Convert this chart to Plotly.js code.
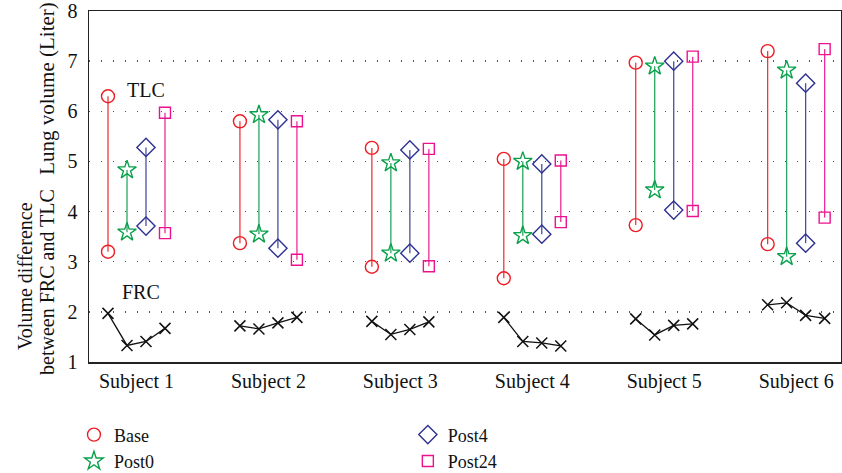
<!DOCTYPE html>
<html>
<head>
<meta charset="utf-8">
<script src="https://cdn.plot.ly/plotly-3.0.1.min.js"></script>
<style>html,body{margin:0;padding:0;background:#fff}#chart{width:842px;height:473px}</style>
</head>
<body>
<div id="chart"></div>
<script>
var subjects = ["Subject 1", "Subject 2", "Subject 3", "Subject 4", "Subject 5", "Subject 6"];
var seriesNames = ["Base", "Post0", "Post4", "Post24"];

// TLC values (upper end of each stem)
var tlcBase   = [6.30, 5.80, 5.27, 5.05, 6.97, 7.20];
var tlcPost0  = [4.83, 5.93, 4.97, 5.00, 6.90, 6.82];
var tlcPost4  = [5.28, 5.83, 5.23, 4.95, 7.00, 6.56];
var tlcPost24 = [5.97, 5.80, 5.25, 5.02, 7.09, 7.24];

// FRC values (lower end of each stem)
var frcBase   = [3.20, 3.37, 2.90, 2.67, 3.73, 3.35];
var frcPost0  = [3.59, 3.55, 3.17, 3.52, 4.43, 3.10];
var frcPost4  = [3.71, 3.27, 3.17, 3.55, 4.03, 3.37];
var frcPost24 = [3.57, 3.04, 2.91, 3.79, 4.01, 3.88];

// Volume difference between FRC and TLC (black line)
var diffBase   = [1.97, 1.72, 1.81, 1.89, 1.86, 2.14];
var diffPost0  = [1.33, 1.66, 1.55, 1.41, 1.54, 2.18];
var diffPost4  = [1.41, 1.78, 1.65, 1.38, 1.73, 1.93];
var diffPost24 = [1.67, 1.89, 1.80, 1.32, 1.76, 1.87];

var tlc = [tlcBase, tlcPost0, tlcPost4, tlcPost24];
var frc = [frcBase, frcPost0, frcPost4, frcPost24];
var diff = [diffBase, diffPost0, diffPost4, diffPost24];

// styles
var colors = ["#ee1d25", "#0aa14b", "#2e3192", "#ec118f"];
var lineColors = ["#f0363d", "#27a860", "#4b4f9e", "#ec2d98"];
var symbols = ["circle-open", "star-open", "diamond-open", "square-open"];
var sizes = [13, 14, 14, 11];
var offsets = [-1.5, -0.5, 0.5, 1.5];
var step = 0.144;
var serif = "Liberation Serif, Times New Roman, serif";

var traces = [];
var subjPos = subjects.map(function (s, i) { return i + 1; });

for (var k = 0; k < 4; k++) {
  var sx = [], sy = [], mx = [], my = [];
  for (var i = 0; i < subjects.length; i++) {
    var xv = subjPos[i] + offsets[k] * step;
    sx.push(xv, xv, null);
    sy.push(frc[k][i], tlc[k][i], null);
    mx.push(xv, xv);
    my.push(tlc[k][i], frc[k][i]);
  }
  traces.push({
    x: sx, y: sy, mode: "lines", type: "scatter",
    line: {color: lineColors[k], width: 1.3},
    showlegend: false, hoverinfo: "skip"
  });
  traces.push({
    x: mx, y: my, mode: "markers", type: "scatter", name: seriesNames[k],
    marker: {symbol: symbols[k], size: sizes[k], color: colors[k], line: {width: 1.4, color: colors[k]}},
    legend: k < 2 ? "legend" : "legend2",
    showlegend: true
  });
}

// black difference line
var dx = [], dy = [];
for (var i = 0; i < subjects.length; i++) {
  for (var k = 0; k < 4; k++) {
    dx.push(subjPos[i] + offsets[k] * step);
    dy.push(diff[k][i]);
  }
  dx.push(null); dy.push(null);
}
traces.push({
  x: dx, y: dy, mode: "lines+markers", type: "scatter",
  line: {color: "#111", width: 1.3},
  marker: {symbol: "x-thin-open", size: 11, color: "#111", line: {width: 1.5, color: "#111"}},
  showlegend: false, connectgaps: false
});

var annFont = {family: serif, size: 20, color: "#111"};
var layout = {
  width: 842, height: 473,
  margin: {l: 89, r: 1, t: 11, b: 111, autoexpand: false},
  paper_bgcolor: "#fff", plot_bgcolor: "#fff",
  font: {family: serif, size: 20, color: "#111"},
  xaxis: {
    range: [0.64, 6.34],
    tickvals: subjPos, ticktext: subjects,
    showgrid: false, zeroline: false,
    showline: true, linecolor: "#222", linewidth: 1.5, mirror: true,
    ticks: "", automargin: false,
    tickfont: {family: serif, size: 20, color: "#111"}
  },
  yaxis: {
    range: [1, 8],
    tickvals: [1, 2, 3, 4, 5, 6, 7, 8],
    showgrid: true, gridcolor: "#555", gridwidth: 1.3, griddash: "1.3px,10.7px",
    zeroline: false,
    showline: true, linecolor: "#222", linewidth: 1.5, mirror: true,
    ticks: "", ticklabelstandoff: 6, automargin: false,
    tickfont: {family: serif, size: 20, color: "#111"}
  },
  legend: {
    x: -0.02, y: -0.155, xanchor: "left", yanchor: "top",
    orientation: "v", bgcolor: "rgba(0,0,0,0)",
    font: {family: serif, size: 18, color: "#111"},
    tracegroupgap: 0
  },
  legend2: {
    x: 0.424, y: -0.155, xanchor: "left", yanchor: "top",
    orientation: "v", bgcolor: "rgba(0,0,0,0)",
    font: {family: serif, size: 18, color: "#111"},
    tracegroupgap: 0
  },
  annotations: [
    {text: "TLC", x: 1.07, y: 6.43, xref: "x", yref: "y", showarrow: false, xanchor: "center", yanchor: "middle", font: annFont},
    {text: "FRC", x: 1.035, y: 2.4, xref: "x", yref: "y", showarrow: false, xanchor: "center", yanchor: "middle", font: annFont},
    {text: "Lung volume (Liter)", x: -0.0559, y: 0.781, xref: "paper", yref: "paper", textangle: -90, showarrow: false, xanchor: "center", yanchor: "middle", font: {family: serif, size: 21, color: "#111"}},
    {text: "Volume difference", x: -0.0851, y: 0.245, xref: "paper", yref: "paper", textangle: -90, showarrow: false, xanchor: "center", yanchor: "middle", font: annFont},
    {text: "between FRC and TLC", x: -0.0559, y: 0.228, xref: "paper", yref: "paper", textangle: -90, showarrow: false, xanchor: "center", yanchor: "middle", font: annFont}
  ]
};

Plotly.newPlot("chart", traces, layout, {displayModeBar: false, staticPlot: true});
</script>
</body>
</html>
